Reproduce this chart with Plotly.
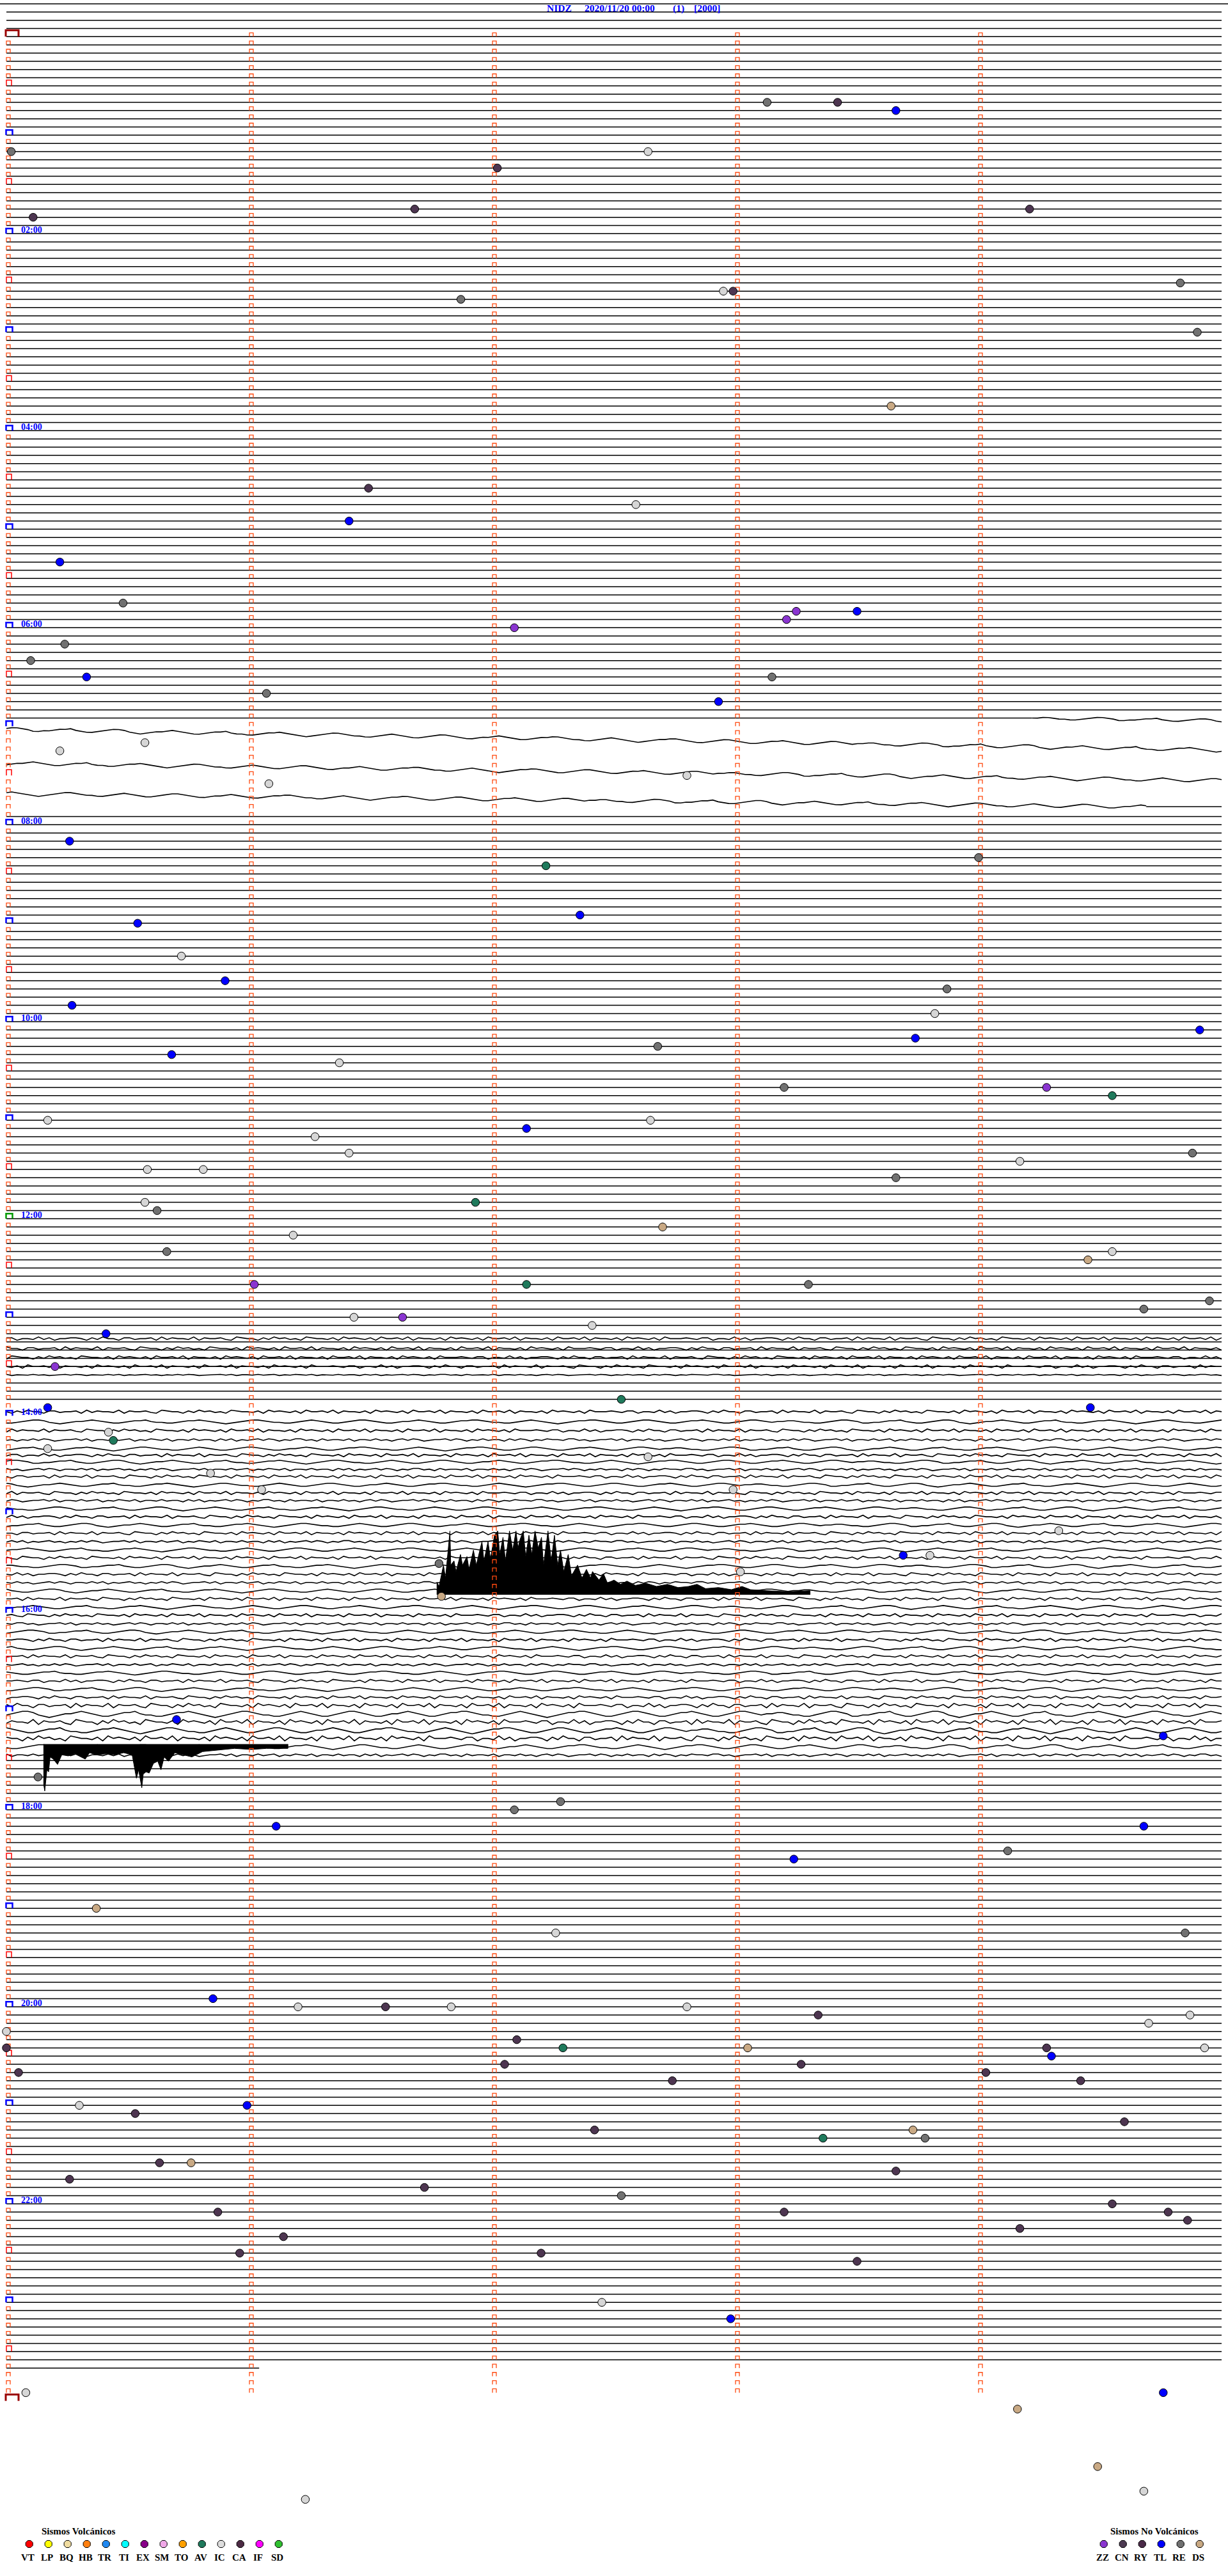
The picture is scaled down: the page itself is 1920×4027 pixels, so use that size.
import plotly.graph_objects as go

# ------------------------------------------------------------------ DATA
STATION = "NIDZ"
START = "2020/11/20 00:00"
CHANNEL = "(1)"
GAIN = "[2000]"

ROW_MINUTES = 5                 # minutes per helicorder line
N_ROWS = 288                    # 24 h of 5-minute lines
LAST_ROW = 284                  # last line with data (23:40)
LAST_ROW_END_MIN = 1.04         # data ends 1.04 min into that line
EXTRA_TOP_ROWS = [-3, -2, -1]   # blank lines above 00:00

HOUR_LABELS = ["02:00", "04:00", "06:00", "08:00", "10:00", "12:00",
               "14:00", "16:00", "18:00", "20:00", "22:00"]

# event markers: line index, minute within line, event type
ev_row = [8, 8, 9, 14, 14, 16, 21, 21, 22, 30, 32, 31, 31, 36, 45, 55, 57, 59, 64, 69,
          70, 71, 70, 72, 74, 76, 78, 78, 80, 81, 86, 87, 91, 90, 98, 100, 101, 107, 108, 112,
          115, 116, 118, 119, 121, 122, 123, 125, 124, 128, 128, 129, 132, 132, 133, 134, 136, 136, 138, 138,
          139, 137, 142, 143, 142, 145, 146, 148, 149, 148, 152, 152, 152, 154, 155, 156, 156, 157, 158, 162,
          166, 167, 167, 171, 170, 172, 173, 175, 177, 177, 182, 185, 185, 186, 190, 187, 205, 207, 212, 215,
          216, 218, 218, 221, 222, 228, 231, 231, 239, 240, 240, 240, 240, 241, 241, 242, 243, 244, 245, 245,
          245, 245, 246, 245, 248, 247, 247, 248, 249, 249, 252, 252, 253, 254, 255, 255, 256, 256, 259, 259,
          260, 261, 262, 263, 264, 265, 265, 265, 266, 267, 268, 270, 270, 271, 276, 278, 287, 287, 289, 296,
          299, 300]
ev_min = [3.13, 3.42, 3.66, 0.02, 2.64, 2.02, 1.68, 4.21, 0.11, 4.83, 1.87, 2.95, 2.99, 4.90, 3.64, 1.49, 2.59, 1.41, 0.22, 0.48,
          3.25, 3.21, 3.50, 2.09, 0.24, 0.10, 0.33, 3.15, 1.07, 2.93, 0.57, 0.22, 1.08, 2.80, 0.26, 4.00, 2.22, 2.36, 0.54, 0.72,
          0.90, 3.87, 0.27, 3.82, 4.91, 3.74, 2.68, 1.37, 0.68, 3.20, 4.28, 4.55, 0.17, 2.65, 2.14, 1.27, 1.41, 4.88, 0.58, 0.81,
          3.66, 4.17, 0.57, 0.62, 1.93, 2.70, 1.18, 0.66, 4.45, 4.55, 1.02, 2.14, 3.30, 4.95, 4.68, 1.43, 1.63, 2.41, 0.41, 0.20,
          2.53, 0.17, 4.46, 0.44, 0.42, 0.17, 2.64, 0.84, 1.05, 2.99, 4.33, 3.69, 3.80, 1.78, 1.79, 3.02, 0.70, 4.76, 0.13, 2.28,
          2.09, 1.11, 4.68, 4.12, 3.24, 0.37, 2.26, 4.85, 0.85, 1.20, 1.56, 1.83, 2.80, 3.34, 4.87, 4.70, 0.00, 2.10, 0.00, 2.29,
          3.05, 4.28, 4.30, 4.93, 0.05, 2.05, 3.27, 4.03, 2.74, 4.42, 0.99, 0.30, 0.53, 4.60, 2.42, 3.73, 3.78, 3.36, 0.63, 0.76,
          3.66, 0.26, 1.72, 2.53, 4.55, 0.87, 3.20, 4.78, 4.86, 4.17, 1.14, 0.96, 2.20, 3.50, 2.45, 2.98, 0.08, 4.76, 4.16, 4.49,
          4.68, 1.23]
ev_type = ["RE", "CN", "TL", "RE", "IC", "CN", "CN", "CN", "CN", "RE", "RE", "IC", "CN", "RE", "DS", "CN", "IC", "TL", "TL", "RE",
           "ZZ", "ZZ", "TL", "ZZ", "RE", "RE", "TL", "RE", "RE", "TL", "IC", "IC", "IC", "IC", "TL", "RE", "AV", "TL", "TL", "IC",
           "TL", "RE", "TL", "IC", "TL", "TL", "RE", "IC", "TL", "RE", "ZZ", "AV", "IC", "IC", "TL", "IC", "IC", "RE", "IC", "IC",
           "RE", "IC", "IC", "RE", "AV", "DS", "IC", "RE", "DS", "IC", "ZZ", "AV", "RE", "RE", "RE", "IC", "ZZ", "IC", "TL", "ZZ",
           "AV", "TL", "TL", "AV", "IC", "IC", "IC", "IC", "IC", "IC", "IC", "TL", "IC", "RE", "DS", "IC", "TL", "TL", "RE", "RE",
           "RE", "TL", "TL", "RE", "TL", "DS", "IC", "RE", "TL", "IC", "CN", "IC", "IC", "CN", "IC", "IC", "IC", "CN", "CN", "AV",
           "DS", "CN", "TL", "IC", "CN", "CN", "CN", "CN", "CN", "CN", "TL", "IC", "CN", "CN", "CN", "DS", "RE", "AV", "CN", "DS",
           "CN", "CN", "CN", "RE", "CN", "CN", "CN", "CN", "CN", "CN", "CN", "CN", "CN", "CN", "IC", "TL", "IC", "TL", "DS", "DS",
           "IC", "IC"]

# legend
VOLC_CODES = ["VT", "LP", "BQ", "HB", "TR", "TI", "EX", "SM", "TO", "AV", "IC", "CA", "IF", "SD"]
VOLC_COLORS = ["#ff0000", "#ffff00", "#f0dca0", "#ff8010", "#2088f0", "#00ffff", "#880088",
               "#f0a8e8", "#ffa000", "#1f7a5c", "#dcdcdc", "#4c2a44", "#ff00ff", "#30c030"]
NONVOLC_CODES = ["ZZ", "CN", "RY", "TL", "RE", "DS"]
NONVOLC_COLORS = ["#8a35d0", "#4d3a52", "#4a2a48", "#0000ff", "#707070", "#c8a882"]

# wave texture strings (estimated trace shape, digit 5 = baseline)
PATTERNS = [
    "5546645345564635546453456465355464635456453546465345564635546456354654635546455364635456465354664536455463554645356465345564653546455364653546",
    "466354726364735264735463625374536274635263745362735464736253746352637453627364735263745362736453726354736253647352637463527364536274635273645372635473625364735263746352736453",
    "55665443345677653344566754334567764323455676543345667544334566765432345677654433456765433456776543345567654334566776544334567654323456677654334567765433456676543345677654",
    "5565466355474635566536475536645563746554736556437655364756453765546375654637556473655463756546375564736554637556473655463756546375",
]

# rows whose plain straight line is not drawn (replaced by traces below)
SKIP_ROWS = [83] + list(range(84, 95)) + [163] + list(range(167, 210))

# traces: row, from-minute, to-minute, offset at start, offset at end (rows), amplitude (rows), pattern, phase
TRACES = [
    (83, 0.00, 4.22, 0.00, 0.00, 0.00, 0, 0),
    (83, 4.22, 5.00, 0.00, 0.30, 0.25, 2, 0),
    (84, 0.00, 5.00, 0.37, 2.86, 0.30, 2, 11),
    (88, 0.00, 5.00, 0.50, 2.60, 0.30, 2, 37),
    (92, 0.00, 4.69, 0.20, 1.80, 0.30, 2, 61),
    (92, 4.69, 5.00, 1.80, 1.80, 0.00, 0, 0),
    (159, 0.00, 5.00, -0.40, -0.40, 0.30, 3, 5),
    (160, 0.00, 5.00, -0.20, -0.20, 0.30, 3, 23),
    (161, 0.00, 5.00, -0.10, -0.10, 0.30, 3, 47),
    (162, 0.00, 5.00, 0.00, 0.00, 0.30, 3, 71),
    (163, 0.00, 5.00, 0.00, 0.00, 0.15, 0, 13),
]
# noisy band 14:00-17:25: row, offset, amplitude, pattern
NOISY_ROWS = list(range(167, 210))
NOISY_OFF = [0.5, 0.7, 0.8, 0.9, 1.0, 0.8, 0.6, 0.5, 0.4, 0.4, 0.4, 0.3, 0.3, 0.3, 0.3, 0.3, 0.3, 0.3,
             0.3, 0.3, 0.3, 0.3, 0.3, 0.3, 0.3, 0.3, 0.3, 0.3, 0.3, 0.3, 0.3, 0.3, 0.3, 0.3, 0.3, 0.3,
             0.3, 0.3, 0.3, 0.3, 0.3, 0.3, 0.3]
NOISY_AMP = [0.28] * 36 + [0.4, 0.45, 0.45, 0.45, 0.45, 0.35, 0.3]
NOISY_PAT = [3, 2, 3, 0, 2, 3, 2, 0, 3, 2, 3, 0, 2, 3, 2, 3, 0, 2, 3, 2, 3, 0, 2, 3, 2, 3, 0, 2, 3, 2,
             3, 0, 2, 3, 2, 3, 3, 2, 3, 2, 3, 2, 0]

# tremor burst on the 15:50 line (seconds into line, upward amplitude in line units)
B1_ROW, B1_BASE = 190, -0.2
B1_T = [106.3, 106.3, 106.8, 107.4, 107.9, 108.4, 109.5, 109.7, 110.5, 111.0, 112.1, 112.6, 113.7, 114.2,
        115.3, 116.0, 116.8, 117.4, 117.9, 118.9, 119.5, 120.5, 121.3, 121.8, 122.6, 123.2, 124.2, 125.0,
        125.8, 126.3, 126.8, 127.6, 128.2, 129.0, 129.7, 130.5, 131.3, 132.1, 132.6, 133.7, 134.5, 135.3,
        136.1, 136.8, 137.6, 138.7, 139.5, 141.0, 142.1, 143.2, 144.2, 144.7, 146.3, 147.4, 148.4, 150.0,
        151.6, 153.2, 155.3, 157.9, 160.5, 163.2, 165.8, 168.4, 170.5, 172.6, 175.8, 179.0, 181.6, 183.7,
        187.9, 193.2, 198.4, 198.4]
B1_A = [0.0, 1.53, 1.01, 2.57, 3.61, 2.05, 7.77, 3.61, 4.13, 2.83, 4.91, 3.61, 4.65, 3.09,
        5.43, 3.61, 5.17, 6.47, 4.13, 6.47, 4.39, 7.25, 7.77, 4.91, 6.99, 4.13, 7.77, 5.43,
        7.77, 5.69, 6.73, 7.77, 4.65, 7.25, 4.91, 7.77, 5.69, 6.99, 3.61, 7.77, 4.13, 7.25,
        3.61, 5.43, 2.83, 4.91, 2.31, 3.61, 2.05, 3.09, 2.05, 2.83, 1.79, 2.57, 1.40, 1.79,
        1.27, 1.66, 1.14, 1.40, 1.01, 1.27, 0.88, 1.01, 1.27, 0.75, 0.88, 0.62, 1.01, 0.62,
        0.49, 0.36, 0.49, 0.0]

# burst on the 17:20 line (seconds into line, downward amplitude in line units)
B2_ROW, B2_BASE = 208, 0.0
B2_T = [9.21, 9.21, 9.47, 9.74, 10.0, 10.42, 10.79, 11.58, 12.63, 13.68, 15.26, 16.84, 18.42, 19.47,
        20.53, 22.1, 24.74, 26.84, 28.95, 31.05, 32.1, 32.63, 33.42, 33.79, 34.47, 35.26, 36.31, 37.37,
        38.16, 38.95, 40.0, 41.58, 43.68, 45.79, 48.42, 51.05, 53.68, 56.31, 60.5, 64.2, 69.5, 69.5]
B2_A = [0.0, 4.93, 5.71, 4.42, 3.12, 3.38, 1.56, 1.82, 2.47, 1.30, 1.43, 1.17, 1.56, 1.82,
        1.04, 1.30, 1.17, 1.30, 1.04, 1.30, 4.16, 3.12, 5.32, 3.64, 3.38, 3.51, 2.34, 2.08,
        3.12, 1.56, 2.08, 1.04, 1.30, 1.56, 0.91, 0.78, 0.65, 0.52, 0.65, 0.52, 0.52, 0.0]

EVENT_COLORS = {"RE": "#717171", "CN": "#4d3550", "TL": "#0000ff", "IC": "#d6d6d6",
                "DS": "#c9a984", "ZZ": "#8a35d0", "AV": "#1f7a5c"}

# ------------------------------------------------------------------ GEOMETRY
W, H = 1920, 4027
X0_PX, MIN_PX = 10.0, 380.0
Y0_PX, ROW_PX = 57.33, 12.833


def px2x(px):
    return (px - X0_PX) / MIN_PX


def px2y(py):
    return (py - Y0_PX) / ROW_PX


DX = 1.0 / MIN_PX   # one pixel in minutes
DY = 1.0 / ROW_PX   # one pixel in rows
STEP = 0.022        # minutes per texture sample

fig = go.Figure()

# ---- straight lines
lx, ly = [], []
lx += [px2x(0), px2x(W), None]
ly += [-4, -4, None]
for r in EXTRA_TOP_ROWS + list(range(0, LAST_ROW + 1)):
    if r in SKIP_ROWS:
        continue
    end = LAST_ROW_END_MIN if r == LAST_ROW else ROW_MINUTES
    lx += [0, end, None]
    ly += [r, r, None]


def trace_pts(row, m0, m1, o0, o1, amp, pat, phase):
    s = PATTERNS[pat]
    n = max(2, int(round((m1 - m0) / STEP)) + 1)
    xs, ys = [], []
    for i in range(n):
        f = i / (n - 1)
        v = (int(s[(phase + i) % len(s)]) - 5) / 3.0 if amp > 0 else 0.0
        xs.append(m0 + (m1 - m0) * f)
        ys.append(row + o0 + (o1 - o0) * f - v * amp)
    return xs, ys


wx, wy = [], []
all_traces = list(TRACES)
for k, r in enumerate(NOISY_ROWS):
    all_traces.append((r, 0.0, 5.0, NOISY_OFF[k], NOISY_OFF[k], NOISY_AMP[k], NOISY_PAT[k], (r * 7) % 50))
for t in all_traces:
    xs, ys = trace_pts(*t)
    wx += xs + [None]
    wy += ys + [None]

fig.add_trace(go.Scatter(x=lx, y=ly, mode="lines", line=dict(color="black", width=1.5),
                         hoverinfo="skip"))
fig.add_trace(go.Scatter(x=wx, y=wy, mode="lines", line=dict(color="black", width=1.6),
                         hoverinfo="skip"))

# ---- bursts
fig.add_trace(go.Scatter(x=[t / 60.0 for t in B1_T], y=[B1_ROW + B1_BASE - a for a in B1_A],
                         mode="lines", fill="toself", fillcolor="black",
                         line=dict(color="black", width=1), hoverinfo="skip"))
fig.add_trace(go.Scatter(x=[t / 60.0 for t in B2_T], y=[B2_ROW + B2_BASE + a for a in B2_A],
                         mode="lines", fill="toself", fillcolor="black",
                         line=dict(color="black", width=1), hoverinfo="skip"))

# ---- minute marks
mx, my = [], []
w_s, h_s = 6 * DX, 6 * DY
for r in range(0, N_ROWS):
    for m in range(ROW_MINUTES):
        if m == 0 and r % 6 == 0:
            continue
        mx += [m, m, m + w_s, m + w_s, None]
        my += [r, r - h_s, r - h_s, r, None]
fig.add_trace(go.Scatter(x=mx, y=my, mode="lines", line=dict(color="#ff4a10", width=1.3),
                         hoverinfo="skip"))


def bracket(rows, wpx, hpx, color, width, x0px=0.0):
    bx, by = [], []
    for r in rows:
        a = x0px * DX
        bx += [a, a, a + wpx * DX, a + wpx * DX, None]
        by += [r, r - hpx * DY, r - hpx * DY, r, None]
    fig.add_trace(go.Scatter(x=bx, y=by, mode="lines", line=dict(color=color, width=width),
                             hoverinfo="skip"))


half_rows = [r for r in range(6, N_ROWS, 12)]
hour_rows = [r for r in range(12, N_ROWS, 12) if r != 144]
bracket(half_rows, 8, 9, "#ff0000", 1.5)
bracket(hour_rows, 10, 8, "#0000ff", 2.5, -0.5)
bracket([144], 10, 8, "#009a00", 2.5, -0.5)
bracket([0, N_ROWS], 20, 10, "#990000", 3, -1)

# ---- events
fig.add_trace(go.Scatter(x=ev_min, y=ev_row, mode="markers",
                         marker=dict(size=12.5, color=[EVENT_COLORS[t] for t in ev_type],
                                     line=dict(color="black", width=1)),
                         hoverinfo="skip"))

# ---- hour labels
ann = []
for lab in HOUR_LABELS:
    r = int(lab[:2]) * 60 // ROW_MINUTES
    ann.append(dict(x=px2x(31), y=r - 0.45, xref="x", yref="y", text=lab, showarrow=False,
                    xanchor="left", yanchor="middle",
                    font=dict(family="Liberation Serif", size=14, color="#0000ff", weight="bold")))

# ---- title
for txt, xp in zip([STATION, START, CHANNEL, GAIN], [853, 912, 1050, 1083]):
    ann.append(dict(x=px2x(xp), y=px2y(12.5), xref="x", yref="y", text=txt, showarrow=False,
                    xanchor="left", yanchor="middle",
                    font=dict(family="Liberation Serif", size=15.5, color="#0000ff", weight="bold")))

# ---- legends
LEG_FONT = dict(family="Liberation Serif", size=15, color="black", weight="bold")
vx = [45.7 + 30 * i for i in range(len(VOLC_CODES))]
nx = [1725.7 + 30 * i for i in range(len(NONVOLC_CODES))]
fig.add_trace(go.Scatter(x=[px2x(p) for p in vx + nx], y=[px2y(3977)] * (len(vx) + len(nx)),
                         mode="markers",
                         marker=dict(symbol="octagon", size=12, color=VOLC_COLORS + NONVOLC_COLORS,
                                     line=dict(color="black", width=1)),
                         hoverinfo="skip"))
for code, p in zip(VOLC_CODES + NONVOLC_CODES, vx + nx):
    ann.append(dict(x=px2x(p - 2), y=px2y(3998), xref="x", yref="y", text=code, showarrow=False,
                    xanchor="center", yanchor="middle", font=LEG_FONT))
ann.append(dict(x=px2x(63), y=px2y(3957), xref="x", yref="y", text="Sismos Volcánicos",
                showarrow=False, xanchor="left", yanchor="middle", font=LEG_FONT))
ann.append(dict(x=px2x(1734), y=px2y(3957), xref="x", yref="y", text="Sismos No Volcánicos",
                showarrow=False, xanchor="left", yanchor="middle", font=LEG_FONT))

fig.update_layout(
    width=W, height=H, margin=dict(l=0, r=0, t=0, b=0),
    paper_bgcolor="white", plot_bgcolor="white", showlegend=False,
    xaxis=dict(range=[px2x(0), px2x(W)], visible=False, fixedrange=True),
    yaxis=dict(range=[px2y(H), px2y(0)], visible=False, fixedrange=True),
    annotations=ann,
)

fig.write_html("out.html", config={"displayModeBar": False},
               post_script="document.body.style.margin='0px';")
